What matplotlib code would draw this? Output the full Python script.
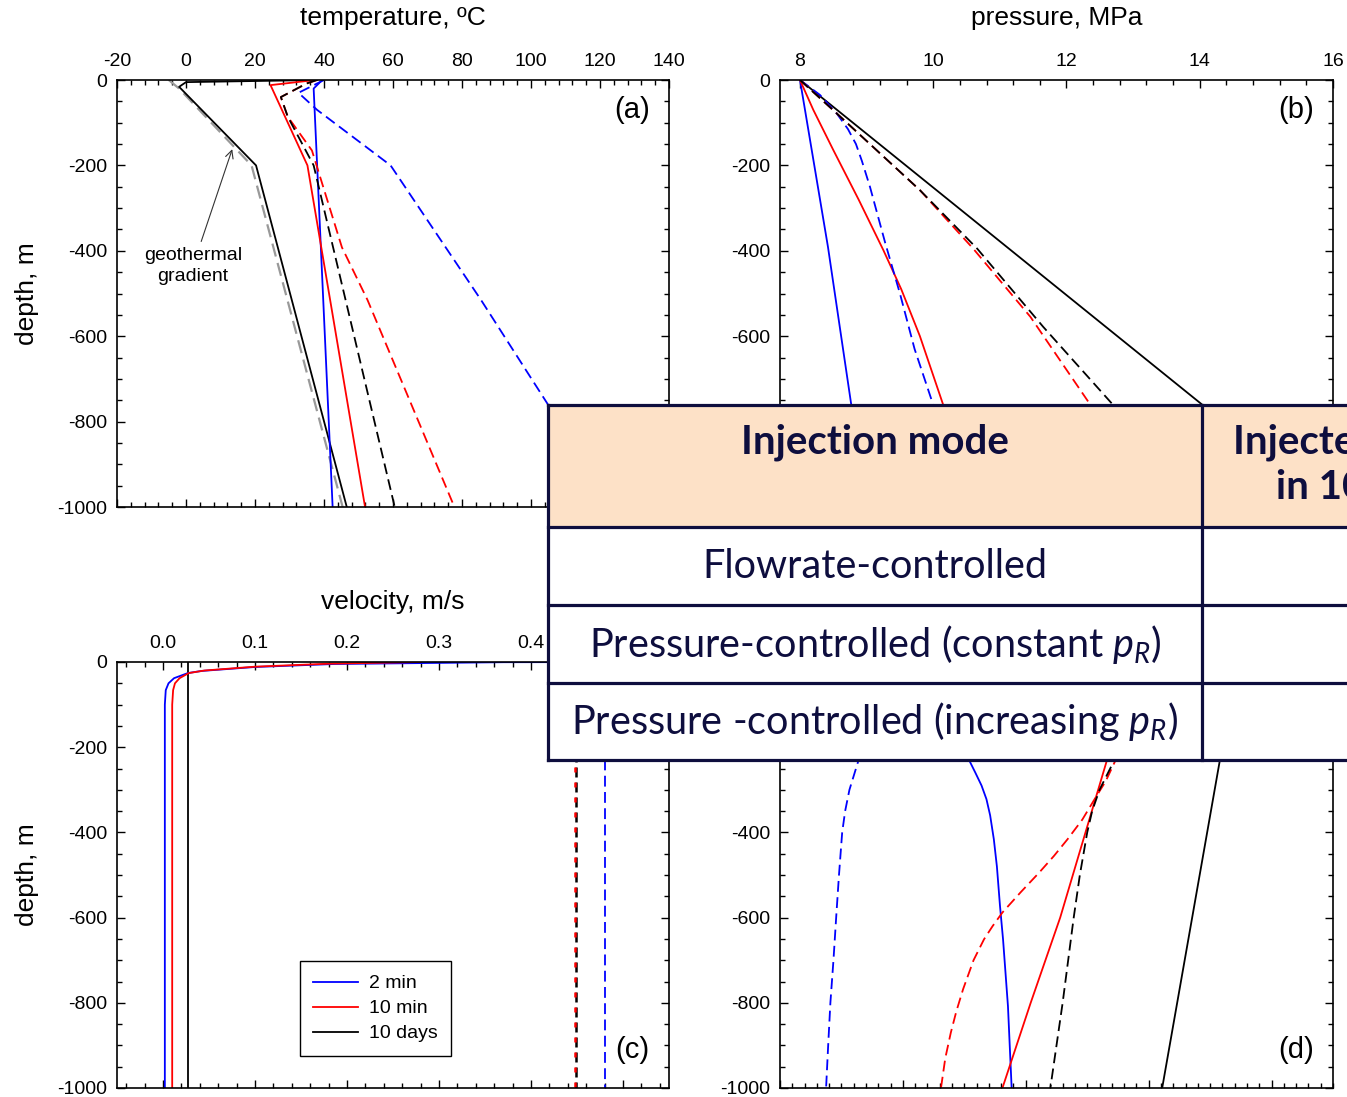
import numpy as np
import matplotlib.pyplot as plt
from matplotlib.patches import Rectangle
from matplotlib.ticker import MultipleLocator, FormatStrFormatter

##############
## Settings ##
##############
plt.rcParams['font.family'] = ['Liberation Sans', 'DejaVu Sans']
plt.rcParams['axes.unicode_minus'] = False
plt.rcParams['mathtext.fontset'] = 'custom'
plt.rcParams['mathtext.rm'] = 'Lato'
plt.rcParams['mathtext.it'] = 'Lato:italic'

W, H = 1347, 1097

##########
## Data ##
##########
# (a) temperature, degC, against depth, m
geo_z = [0, -20, -200, -1000]
geo_T = [-5.0, -2.0, 19.0, 45.4]

Ta_blue_z = [0, -20, -1000]
Ta_blue = [39.5, 37.0, 42.5]
Ta_red_z = [0, -12, -200, -1000]
Ta_red = [37.5, 24.5, 35.2, 51.9]
Ta_black_z = [0, -5, -16, -200, -1000]
Ta_black = [38.0, 0.0, -2.0, 20.3, 46.6]

Ta_blue_d_z = [0, -30, -70, -200, -515, -761, -1000]
Ta_blue_d = [40.0, 32.6, 38.0, 59.3, 85.5, 105.0, 124.0]
Ta_red_d_z = [0, -8, -40, -86, -165, -392, -515, -1000]
Ta_red_d = [38.0, 35.0, 27.5, 29.5, 36.5, 45.2, 52.6, 77.8]
Ta_black_d_z = [0, -8, -40, -86, -200, -1000]
Ta_black_d = [38.0, 35.0, 27.5, 29.5, 37.0, 60.5]

# (b) pressure, MPa
Pb_blue_z = [0, -391, -761, -1000]
Pb_blue = [8.0, 8.42, 8.77, 8.98]
Pb_red_z = [0, -70, -164, -280, -398, -490, -600, -761, -1000]
Pb_red = [8.0, 8.2, 8.5, 8.88, 9.25, 9.52, 9.8, 10.15, 10.65]
Pb_black_z = [0, -1000]
Pb_black = [8.0, 15.94]

Pb_blue_d_z = [0, -35, -78, -115, -150, -190, -250, -382, -500, -630, -761, -1000]
Pb_blue_d = [8.0, 8.3, 8.55, 8.72, 8.84, 8.93, 9.05, 9.28, 9.5, 9.72, 10.0, 10.4]
Pb_red_d_z = [0, -78, -258, -395, -555, -761, -1000]
Pb_red_d = [8.0, 8.55, 9.8, 10.6, 11.46, 12.36, 13.3]
Pb_black_d_z = [0, -78, -258, -395, -578, -761, -1000]
Pb_black_d = [8.0, 8.55, 9.8, 10.66, 11.65, 12.7, 13.8]

# (c) velocity, m/s
Vc_blue_z = [0, -0.5, -4.7, -11.7, -21, -26, -38, -50, -66, -100, -1000]
Vc_blue = [0.56, 0.37, 0.186, 0.10, 0.042, 0.027, 0.012, 0.006, 0.003, 0.002, 0.002]
Vc_red_z = [0, -4, -11, -20, -26, -38, -50, -66, -100, -1000]
Vc_red = [0.28, 0.18, 0.10, 0.045, 0.028, 0.018, 0.013, 0.011, 0.010, 0.010]
Vc_black_z = [0, -1000]
Vc_black = [0.027, 0.027]

Vc_blue_d_z = [0, -1000]
Vc_blue_d = [0.480, 0.480]
Vc_red_d_z = [0, -1000]
Vc_red_d = [0.448, 0.448]
Vc_black_d_z = [0, -1000]
Vc_black_d = [0.449, 0.449]

# (d)
Qd_blue_z = [0, -100, -180, -231, -260, -290, -322, -360, -416, -480, -572, -651, -808, -1000]
Qd_blue = [11.5, 13.3, 14.6, 15.4, 15.9, 16.4, 16.8, 17.1, 17.4, 17.65, 17.9, 18.15, 18.55, 18.85]
Qd_red_z = [0, -231, -600, -800, -1000]
Qd_red = [28.9, 26.6, 22.8, 20.4, 18.1]
Qd_black_z = [0, -1000]
Qd_black = [37.2, 31.1]

Qd_blue_d_z = [0, -120, -239, -300, -350, -400, -500, -600, -700, -800, -900, -1000]
Qd_blue_d = [9.3, 7.6, 6.3, 5.65, 5.3, 5.06, 4.8, 4.57, 4.35, 4.1, 3.92, 3.75]
Qd_red_d_z = [0, -231, -280, -322, -370, -416, -455, -494, -540, -588, -620, -651,
              -700, -768, -820, -870, -930, -1000]
Qd_red_d = [30.0, 27.3, 26.5, 25.6, 24.6, 23.4, 22.3, 21.1, 19.6, 18.1, 17.3, 16.6,
            15.75, 14.9, 14.35, 13.9, 13.45, 13.1]
Qd_black_d_z = [0, -150, -231, -300, -350, -400, -500, -600, -800, -1000]
Qd_black_d = [30.5, 28.6, 27.2, 26.0, 25.4, 25.0, 24.4, 23.9, 23.0, 22.0]

legend_labels = ['2 min', '10 min', '10 days']

# table overlaid on the figure
table_header = 'Injection mode'
table_header2 = ['Injected mass', 'in 10 days']
table_rows = ['Flowrate-controlled',
              'Pressure-controlled (constant $p_R$)',
              'Pressure -controlled (increasing $p_R$)']

############
## Canvas ##
############
fig = plt.figure(figsize=(W / 100, H / 100), dpi=100)

def px_axes(left, top, right, bottom):
    return fig.add_axes([left / W, 1 - bottom / H, (right - left) / W, (bottom - top) / H])

ax_a = px_axes(117, 80, 669, 507)
ax_b = px_axes(780, 80, 1333, 507)
ax_c = px_axes(117, 662, 669, 1088)
ax_d = px_axes(780, 662, 1333, 1088)

DASH = (6, 3)

def style(ax, xlim, major, minor, fmt=None, labeltop=True):
    ax.set_xlim(*xlim)
    ax.set_ylim(-1000, 0)
    ax.xaxis.set_major_locator(MultipleLocator(major))
    ax.xaxis.set_minor_locator(MultipleLocator(minor))
    ax.yaxis.set_major_locator(MultipleLocator(200))
    ax.yaxis.set_minor_locator(MultipleLocator(50))
    if fmt:
        ax.xaxis.set_major_formatter(FormatStrFormatter(fmt))
    ax.tick_params(which='both', direction='in', top=True, bottom=True,
                   left=True, right=True, labeltop=labeltop, labelbottom=False,
                   labelsize=14, width=1)
    ax.tick_params(which='major', length=6, pad=7)
    ax.tick_params(which='minor', length=3.5)
    ax.xaxis.set_label_position('top')
    for s in ax.spines.values():
        s.set_linewidth(1.2)

def pair(ax, x, z, color, dashed=False, label=None):
    if dashed:
        ax.plot(x, z, color=color, lw=1.3, dashes=DASH, label=label)
    else:
        ax.plot(x, z, color=color, lw=1.3, label=label)

## (a) temperature
style(ax_a, (-20, 140), 20, 4)
ax_a.plot(geo_T, geo_z, color='#999999', lw=1.6, dashes=DASH)
pair(ax_a, Ta_black, Ta_black_z, 'black')
pair(ax_a, Ta_blue, Ta_blue_z, 'blue')
pair(ax_a, Ta_red, Ta_red_z, 'red')
pair(ax_a, Ta_blue_d, Ta_blue_d_z, 'blue', True)
pair(ax_a, Ta_red_d, Ta_red_d_z, 'red', True)
pair(ax_a, Ta_black_d, Ta_black_d_z, 'black', True)
ax_a.annotate('geothermal\ngradient', xy=(13.4, -162), xytext=(2, -436),
              ha='center', va='center', fontsize=14, linespacing=1.35,
              arrowprops=dict(arrowstyle='->', color='#333333', lw=0.8,
                              shrinkA=2, shrinkB=0))
ax_a.set_xlabel('temperature, ºC', fontsize=19, labelpad=20)
ax_a.set_ylabel('depth, m', fontsize=19, labelpad=13)
ax_a.text(0.965, 0.93, '(a)', transform=ax_a.transAxes, ha='right', va='center', fontsize=21)

## (b) pressure
style(ax_b, (7.7, 16), 2, 0.4)
pair(ax_b, Pb_black, Pb_black_z, 'black')
pair(ax_b, Pb_blue, Pb_blue_z, 'blue')
pair(ax_b, Pb_red, Pb_red_z, 'red')
pair(ax_b, Pb_blue_d, Pb_blue_d_z, 'blue', True)
pair(ax_b, Pb_red_d, Pb_red_d_z, 'red', True)
pair(ax_b, Pb_black_d, Pb_black_d_z, 'black', True)
ax_b.set_xlabel('pressure, MPa', fontsize=19, labelpad=20)
ax_b.text(0.965, 0.93, '(b)', transform=ax_b.transAxes, ha='right', va='center', fontsize=21)

## (c) velocity
style(ax_c, (-0.05, 0.55), 0.1, 0.02, fmt='%.1f')
pair(ax_c, Vc_black, Vc_black_z, 'black', label=legend_labels[2])
pair(ax_c, Vc_blue, Vc_blue_z, 'blue', label=legend_labels[0])
pair(ax_c, Vc_red, Vc_red_z, 'red', label=legend_labels[1])
pair(ax_c, Vc_blue_d, Vc_blue_d_z, 'blue', True)
ax_c.plot(Vc_black_d, Vc_black_d_z, color='black', lw=1.8, dashes=(4, 2))
ax_c.plot(Vc_red_d, Vc_red_d_z, color='red', lw=1.8, dashes=(2, 4))
ax_c.set_xlabel('velocity, m/s', fontsize=19, labelpad=19)
ax_c.set_ylabel('depth, m', fontsize=19, labelpad=13)
ax_c.text(0.965, 0.09, '(c)', transform=ax_c.transAxes, ha='right', va='center', fontsize=21)
h, l = ax_c.get_legend_handles_labels()
order = [l.index(s) for s in legend_labels]
leg = ax_c.legend([h[i] for i in order], [l[i] for i in order],
                  loc='lower left', bbox_to_anchor=(0.331, 0.075), borderaxespad=0,
                  fontsize=14, fancybox=False, edgecolor='black', framealpha=1,
                  handlelength=2.3, handletextpad=0.55, labelspacing=0.38,
                  borderpad=0.7)
leg.get_frame().set_linewidth(1.0)

## (d)
style(ax_d, (0, 45), 10, 1, labeltop=False)
pair(ax_d, Qd_black, Qd_black_z, 'black')
pair(ax_d, Qd_blue, Qd_blue_z, 'blue')
pair(ax_d, Qd_red, Qd_red_z, 'red')
pair(ax_d, Qd_blue_d, Qd_blue_d_z, 'blue', True)
pair(ax_d, Qd_red_d, Qd_red_d_z, 'red', True)
pair(ax_d, Qd_black_d, Qd_black_d_z, 'black', True)
ax_d.text(0.965, 0.09, '(d)', transform=ax_d.transAxes, ha='right', va='center', fontsize=21)

###########
## Table ##
###########
NAVY = '#0e0e3e'
PEACH = '#fde1c7'
tbl_left, tbl_right, col_split = 548, 1400, 1202
row_edges = [405, 527, 605, 683, 760]

ov = fig.add_axes([0, 0, 1, 1], zorder=10)
ov.set_xlim(0, W)
ov.set_ylim(H, 0)
ov.axis('off')

ov.add_patch(Rectangle((tbl_left, row_edges[0]), tbl_right - tbl_left,
                       row_edges[1] - row_edges[0], facecolor=PEACH, edgecolor='none'))
ov.add_patch(Rectangle((tbl_left, row_edges[1]), tbl_right - tbl_left,
                       row_edges[-1] - row_edges[1], facecolor='white', edgecolor='none'))
for y in row_edges:
    ov.plot([tbl_left, tbl_right], [y, y], color=NAVY, lw=2.3, solid_capstyle='projecting')
for x in (tbl_left, col_split):
    ov.plot([x, x], [row_edges[0], row_edges[-1]], color=NAVY, lw=2.3, solid_capstyle='projecting')

mid = (tbl_left + col_split) / 2
ov.text(mid, 442, table_header, ha='center', va='center', fontsize=29,
        fontweight='bold', family='Lato', color=NAVY)
ov.text(1233, 442, table_header2[0], ha='left', va='center', fontsize=29,
        fontweight='bold', family='Lato', color=NAVY)
ov.text(1276, 488, table_header2[1], ha='left', va='center', fontsize=29,
        fontweight='bold', family='Lato', color=NAVY)
for i, s in enumerate(table_rows):
    yc = (row_edges[i + 1] + row_edges[i + 2]) / 2
    ov.text(mid, yc, s, ha='center', va='center', fontsize=28.5,
            family='Lato', color=NAVY)

fig.savefig('out.png', dpi=100)
